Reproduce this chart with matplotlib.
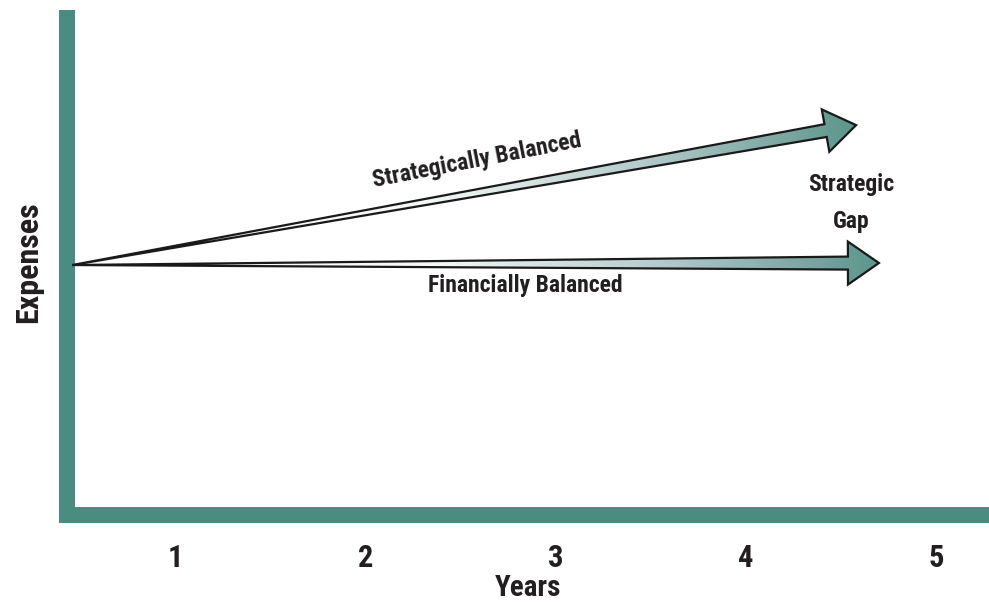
#!/usr/bin/env python3
"""Expenses over years: strategically vs financially balanced growth."""

import numpy as np
import matplotlib

matplotlib.use("Agg")
import matplotlib.pyplot as plt
from matplotlib.colors import LinearSegmentedColormap
from matplotlib.patches import Polygon
from matplotlib.transforms import IdentityTransform

plt.rcParams["font.family"] = ["Liberation Sans Narrow", "Roboto Condensed",
                               "DejaVu Sans Condensed", "DejaVu Sans"]
plt.rcParams["font.weight"] = "bold"
plt.rcParams["font.stretch"] = "condensed"

years = [1, 2, 3, 4, 5]
year_labels = ["1", "2", "3", "4", "5"]

# each arrow: (start year, start expenses, end year, end expenses)
arrow_names = ["Strategically Balanced", "Financially Balanced"]
arrow_start_year = [0.46, 0.46]
arrow_start_value = [4.95, 4.95]
arrow_end_year = [4.58, 4.70]
arrow_end_value = [7.72, 4.99]

TEAL = "#4a8c80"
INK = "#231f20"
shaft_cmap = LinearSegmentedColormap.from_list(
    "shaft",
    [(0.0, "#ffffff"), (0.45, "#f6f8f8"), (0.72, "#b6cdcc"), (0.9, "#7fa9a3"), (1.0, "#5c968c")],
)

W, H, DPI = 989, 606, 100
fig = plt.figure(figsize=(W / DPI, H / DPI), dpi=DPI)
fig.patch.set_facecolor("white")

# axes edges sit on the centre lines of the thick teal frame
ax_left, ax_bottom, ax_top = 67, 515, 10
ax = fig.add_axes([ax_left / W, (H - ax_bottom) / H, 1 - ax_left / W, (ax_bottom - ax_top) / H])

px_per_year = 190.25
x0 = 1 - (175 - ax_left) / px_per_year
ax.set_xlim(x0, x0 + (W - ax_left) / px_per_year)
ax.set_ylim(0, 10)

for side in ("top", "right"):
    ax.spines[side].set_visible(False)
for side in ("left", "bottom"):
    ax.spines[side].set_linewidth(16 * 72 / DPI)
    ax.spines[side].set_color(TEAL)
ax.spines["left"].set_capstyle("butt")
ax.spines["bottom"].set_capstyle("projecting")

ax.set_xticks(years)
ax.set_xticklabels(year_labels, fontsize=22, fontweight="bold", color=INK)
ax.tick_params(axis="x", length=0, pad=20)
ax.set_yticks([])
ax.set_xlabel("Years", fontsize=21, fontweight="bold", color=INK, labelpad=1)
ax.set_ylabel("Expenses", fontsize=23, fontweight="bold", color=INK, labelpad=17)


def arrow_outline(start, tip, head_len=31.0, head_half=21.5, shaft_half=6.5):
    """Tapered arrow in pixel space: point at start, widening shaft, solid head."""
    start = np.asarray(start, float)
    tip = np.asarray(tip, float)
    u = (tip - start) / np.hypot(*(tip - start))
    n = np.array([-u[1], u[0]])
    base = tip - u * head_len
    return np.array([
        start,
        base + n * shaft_half,
        base + n * head_half,
        tip,
        base - n * head_half,
        base - n * shaft_half,
    ])


gradient = np.linspace(0, 1, 512).reshape(1, -1)
for sx, sy, ex, ey in zip(arrow_start_year, arrow_start_value, arrow_end_year, arrow_end_value):
    p0 = ax.transData.transform((sx, sy))
    p1 = ax.transData.transform((ex, ey))
    verts = arrow_outline(p0, p1)
    outline = Polygon(verts, closed=True, facecolor="none", edgecolor="#1a1a1a",
                      linewidth=1.6, joinstyle="miter", transform=IdentityTransform(), zorder=3)
    ax.add_patch(outline)
    img = ax.imshow(gradient, cmap=shaft_cmap, extent=[sx, ex, 0, 10],
                    aspect="auto", interpolation="bilinear", zorder=2)
    img.set_clip_path(outline)

text_kw = dict(fontsize=17, fontweight="bold", color=INK, ha="center", va="center")
ax.text(2.587, 7.03, arrow_names[0], rotation=11, rotation_mode="anchor", **text_kw)
ax.text(2.839, 4.55, arrow_names[1], **text_kw)
ax.text(4.553, 6.18, "Strategic\nGap", linespacing=1.75, **text_kw)

fig.savefig("out.png", dpi=DPI, facecolor="white")
